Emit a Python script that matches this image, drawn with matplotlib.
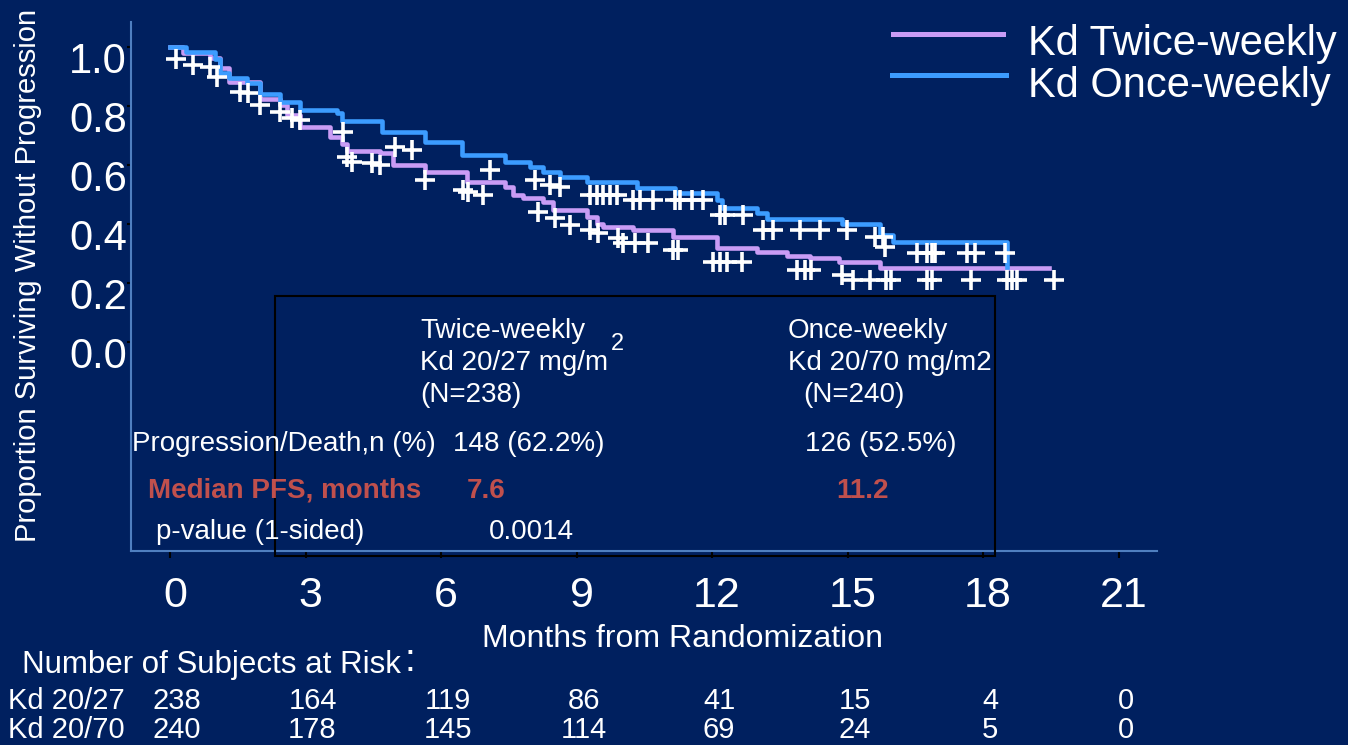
import matplotlib
matplotlib.use("Agg")
import matplotlib.pyplot as plt
import matplotlib.transforms as mtransforms
from matplotlib.patches import Rectangle, Circle
from matplotlib.lines import Line2D

plt.rcParams['font.family'] = ['Liberation Sans', 'DejaVu Sans']

# Kaplan-Meier steps (months, proportion)
times_once = [0, 0.35, 1.0, 1.1, 1.3, 1.7, 1.99, 2.43, 2.88, 3.7, 3.81, 4.69, 5.64,
              6.46, 7.41, 7.96, 8.25, 8.63, 9.23, 10.33, 11.17, 12.10, 12.23, 12.99,
              13.21, 14.87, 15.71, 16.0, 18.52]
surv_once = [1.0, 0.985, 0.96, 0.912, 0.895, 0.877, 0.84, 0.814, 0.786, 0.776, 0.748,
             0.712, 0.677, 0.634, 0.611, 0.594, 0.577, 0.56, 0.543, 0.521, 0.504, 0.481,
             0.453, 0.437, 0.416, 0.402, 0.363, 0.34, 0.255]

times_twice = [0, 0.29, 0.88, 1.1, 1.3, 1.99, 2.43, 2.6, 2.88, 3.54, 3.81, 3.92, 4.65,
               4.93, 5.64, 6.57, 7.41, 7.59, 7.81, 8.25, 8.47, 9.23, 9.45, 9.58, 10.24,
               11.13, 12.10, 12.99, 13.65, 14.16, 14.82, 15.71, 19.47]
surv_twice = [1.0, 0.98, 0.963, 0.93, 0.88, 0.825, 0.805, 0.77, 0.73, 0.695, 0.672, 0.648,
              0.64, 0.60, 0.575, 0.543, 0.527, 0.498, 0.487, 0.476, 0.447, 0.425, 0.402,
              0.391, 0.38, 0.355, 0.32, 0.306, 0.292, 0.284, 0.27, 0.25, 0.25]

# censoring marks (months, proportion)
cens_once_t = [0.13, 0.51, 0.88, 1.04, 3.83, 4.98, 5.36, 7.08, 8.08, 8.41, 8.63,
               9.29, 9.45, 9.58, 9.74, 9.89, 10.24, 10.40, 10.69, 11.17, 11.28, 11.55,
               11.79, 12.17, 12.28, 12.68, 13.12, 13.34, 13.94, 14.38, 14.98, 15.60,
               15.78, 15.82, 16.54, 16.76, 16.87, 16.94, 17.64, 17.82, 18.49]
cens_once_s = [0.959, 0.939, 0.932, 0.898, 0.712, 0.661, 0.651, 0.583, 0.549, 0.532, 0.525,
               0.498, 0.498, 0.498, 0.498, 0.498, 0.481, 0.481, 0.481, 0.481, 0.481, 0.481,
               0.481, 0.431, 0.431, 0.431, 0.38, 0.38, 0.38, 0.38, 0.38, 0.356,
               0.356, 0.322, 0.302, 0.302, 0.302, 0.302, 0.302, 0.302, 0.302]

cens_twice_t = [1.55, 1.73, 1.99, 2.43, 2.70, 2.88, 3.92, 4.03, 4.47, 4.65, 5.64, 6.48,
                6.59, 6.92, 8.14, 8.52, 8.85, 9.29, 9.47, 9.91, 10.02, 10.29, 10.58,
                11.13, 11.24, 12.02, 12.17, 12.33, 12.66, 13.87, 14.05, 14.20, 14.87,
                15.11, 15.49, 15.86, 15.97, 16.75, 16.86, 17.74, 18.54, 18.63, 18.76, 19.58]
cens_twice_s = [0.847, 0.844, 0.803, 0.78, 0.759, 0.753, 0.627, 0.61, 0.607, 0.6, 0.549,
                0.515, 0.508, 0.498, 0.441, 0.42, 0.397, 0.38, 0.369, 0.353, 0.336, 0.336,
                0.336, 0.312, 0.312, 0.271, 0.271, 0.271, 0.271, 0.244, 0.244, 0.244, 0.227,
                0.21, 0.21, 0.21, 0.21, 0.21, 0.21, 0.21, 0.21, 0.21, 0.21, 0.21]

risk_months = [0, 3, 6, 9, 12, 15, 18, 21]
risk_twice = [238, 164, 119, 86, 41, 15, 4, 0]
risk_once = [240, 178, 145, 114, 69, 24, 5, 0]

BG = '#00205f'
LAV = '#c99cf5'
BLUE = '#3c9cff'
RED = '#c0504d'
W, H = 1348, 745


def fx(px):
    return px / W


def fy(py):
    return 1 - py / H


fig = plt.figure(figsize=(W / 100, H / 100), dpi=100, facecolor=BG)
ax = fig.add_axes([fx(131), fy(551), fx(1157) - fx(131), fy(22) - fy(551)])
ax.set_facecolor(BG)

ax.step(times_twice, surv_twice, where='post', color=LAV, lw=3.3, zorder=3)
ax.step(times_once, surv_once, where='post', color=BLUE, lw=3.3, zorder=4)
ax.plot(cens_twice_t, cens_twice_s, '+', color='white', ms=15, mew=2.6, ls='none', zorder=5)
ax.plot(cens_once_t, cens_once_s, '+', color='white', ms=15, mew=2.6, ls='none', zorder=5)

ax.set_xlim(-0.863, 21.85)
ax.set_ylim(-0.708, 1.085)
ax.set_xticks(risk_months)
ax.set_xticklabels([str(m) for m in risk_months])
ax.set_yticks([0, 0.2, 0.4, 0.6, 0.8, 1.0])
ax.set_yticklabels(['0.0', '0.2', '0.4', '0.6', '0.8', '1.0'])

for s in ['top', 'right']:
    ax.spines[s].set_visible(False)
for s in ['left', 'bottom']:
    ax.spines[s].set_color('#4f7fc0')
    ax.spines[s].set_linewidth(1.5)

ax.tick_params(axis='y', direction='out', length=3, width=1.5, color='black',
               labelcolor='white', labelsize=30, pad=0)
ax.tick_params(axis='x', direction='out', length=5, width=1.5, color='black',
               labelcolor='white', labelsize=31, pad=13)

off_y = mtransforms.ScaledTranslation(0, -0.10, fig.dpi_scale_trans)
for lab in ax.get_yticklabels():
    lab.set_transform(lab.get_transform() + off_y)
off_x = mtransforms.ScaledTranslation(0.05, 0, fig.dpi_scale_trans)
for lab in ax.get_xticklabels():
    lab.set_transform(lab.get_transform() + off_x)

# axis titles
fig.text(fx(28), fy(275), 'Proportion Surviving Without Progression', rotation=90,
         color='white', fontsize=21, ha='center', va='center')
fig.text(fx(683), fy(647), 'Months from Randomization', color='white', fontsize=23,
         ha='center', va='baseline')

# legend
fig.add_artist(Line2D([fx(893), fx(1003)], [fy(34), fy(34)], color=LAV, lw=3.6))
fig.add_artist(Line2D([fx(892), fx(1006)], [fy(75), fy(75)], color=BLUE, lw=3.6))
fig.text(fx(1028), fy(55), 'Kd Twice-weekly', color='white', fontsize=30, va='baseline')
fig.text(fx(1028), fy(97), 'Kd Once-weekly', color='white', fontsize=30, va='baseline')

# summary box
fig.add_artist(Rectangle((fx(275), fy(556)), fx(995) - fx(275), fy(296) - fy(556),
                         transform=fig.transFigure, fill=False, ec='black', lw=1.5))
box = dict(color='white', fontsize=20, va='baseline')
fig.text(fx(420), fy(338), 'Twice-weekly', **box)
fig.text(fx(420), fy(370), 'Kd 20/27 mg/m', **box)
fig.text(fx(611), fy(350), '2', color='white', fontsize=17, va='baseline')
fig.text(fx(420), fy(402), '(N=238)', **box)
fig.text(fx(788), fy(338), 'Once-weekly', **box)
fig.text(fx(788), fy(370), 'Kd 20/70 mg/m2', **box)
fig.text(fx(803), fy(402), '(N=240)', **box)
fig.text(fx(132), fy(451), 'Progression/Death,n (%)', **box)
fig.text(fx(453), fy(451), '148 (62.2%)', **box)
fig.text(fx(805), fy(451), '126 (52.5%)', **box)
red = dict(color=RED, fontsize=20, fontweight='bold', va='baseline')
fig.text(fx(148), fy(498), 'Median PFS, months', **red)
fig.text(fx(467), fy(498), '7.6', **red)
fig.text(fx(836), fy(498), '11.2', **red)
fig.text(fx(156), fy(539), 'p-value (1-sided)', **box)
fig.text(fx(489), fy(539), '0.0014', **box)

# number at risk
fig.text(fx(22), fy(673), 'Number of Subjects at Risk', color='white', fontsize=22.5,
         va='baseline')
fig.text(fx(404), fy(671), ':', color='white', fontsize=28, va='baseline')
row1, row2 = 709, 738
fig.text(fx(8), fy(row1), 'Kd 20/27', color='white', fontsize=21, va='baseline')
fig.text(fx(8), fy(row2), 'Kd 20/70', color='white', fontsize=21, va='baseline')
for m, a, b in zip(risk_months, risk_twice, risk_once):
    xt = ax.transData.transform((m, 0))[0] / W + fx(7)
    fig.text(xt, fy(row1), str(a), color='white', fontsize=21, ha='center', va='baseline')
    fig.text(xt, fy(row2), str(b), color='white', fontsize=21, ha='center', va='baseline')

# small logo remnant at the top edge
fig.add_artist(Circle((fx(85), fy(-9)), 11 / W, transform=fig.transFigure,
                      color='#d9a21c', clip_on=False))

fig.savefig('out.png', dpi=100, facecolor=BG)
